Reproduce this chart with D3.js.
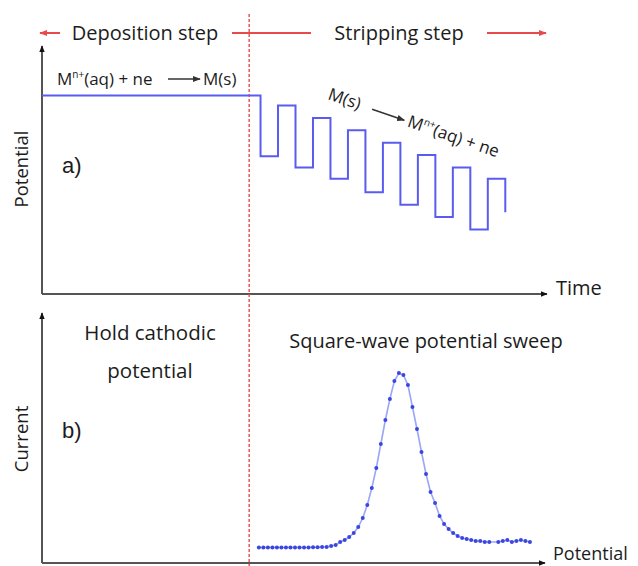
<!DOCTYPE html>
<html>
<head>
<meta charset="utf-8">
<script src="https://cdn.jsdelivr.net/npm/d3@7/dist/d3.min.js"></script>
<style>
  html, body { margin: 0; padding: 0; background: #fff; }
  svg { display: block; }
  text { font-family: "Open Sans", "DejaVu Sans", sans-serif; fill: #1c1c1c; }
</style>
</head>
<body>
<svg id="chart" width="638" height="566"></svg>
<script>
// ---- Panel a) potential programme vs time ----
const boundaryTime = 11.85;                 // end of deposition / start of stripping
const stepTimes = [0, 12.5, 13.5, 14.5, 15.5, 16.5, 17.5, 18.5, 19.5, 20.5, 21.5, 22.5, 23.5, 24.5, 25.5, 26.5];
const stepPotentials = [8.0, 5.55, 7.6, 5.1, 7.1, 4.65, 6.6, 4.1, 6.1, 3.6, 5.6, 3.1, 5.1, 2.6, 4.65, 3.3];

// ---- Panel b) square-wave voltammogram ----
const sweepPotentials = [48,49,50,51,52,53,54,55,56,57,58,59,60,61,62,63,64,65,66,67,68,69,70,71,72,73,74,75,76,77,78,79,80,81,82,83,84,85,86,87,88,89,90,91,92,93,94,95,96,97,98,99,101,102,103,104,105,106,107,108];
const sweepCurrents = [0.62,0.62,0.62,0.62,0.62,0.62,0.62,0.62,0.62,0.62,0.62,0.62,0.63,0.63,0.64,0.64,0.68,0.72,0.84,0.92,1.04,1.20,1.44,1.80,2.32,3.00,3.80,4.76,5.72,6.56,7.28,7.60,7.52,7.12,6.24,5.36,4.44,3.56,2.84,2.40,1.88,1.56,1.36,1.20,1.08,1.00,0.96,0.92,0.88,0.88,0.84,0.84,0.84,0.88,0.92,0.84,0.88,0.92,0.88,0.84];

const svg = d3.select("#chart");

const xTime = d3.scaleLinear().domain([0, 29]).range([42, 549]);
const yPot = d3.scaleLinear().domain([0, 10]).range([294, 46]);
const xPot = d3.scaleLinear().domain([0, 112]).range([42, 548]);
const yCur = d3.scaleLinear().domain([0, 10]).range([563, 313]);

const blue = "#5a5cf0";
const red = "#e8494b";
const axisColor = "#555";

// arrowhead markers
const defs = svg.append("defs");
function marker(id, color, size) {
  defs.append("marker")
    .attr("id", id).attr("viewBox", "0 0 10 10")
    .attr("refX", 9).attr("refY", 5)
    .attr("markerWidth", size).attr("markerHeight", size)
    .attr("markerUnits", "userSpaceOnUse")
    .attr("orient", "auto")
    .append("path").attr("d", "M0,1 L10,5 L0,9 Z").attr("fill", color);
}
marker("axisHead", "#111", 7);
marker("redHead", red, 8);
marker("txtHead", "#333", 8);

// ---- header: deposition / stripping arrows ----
const hy = 33;
const bx = xTime(boundaryTime);
svg.append("line").attr("x1", 60).attr("y1", hy).attr("x2", 40).attr("y2", hy)
  .attr("stroke", red).attr("stroke-width", 2).attr("marker-end", "url(#redHead)");
svg.append("line").attr("x1", 232).attr("y1", hy).attr("x2", 311).attr("y2", hy)
  .attr("stroke", red).attr("stroke-width", 2);
svg.append("line").attr("x1", 487).attr("y1", hy).attr("x2", 546).attr("y2", hy)
  .attr("stroke", red).attr("stroke-width", 2).attr("marker-end", "url(#redHead)");
svg.append("text").attr("x", 145).attr("y", hy + 7).attr("text-anchor", "middle")
  .attr("font-size", 20).text("Deposition step");
svg.append("text").attr("x", 399).attr("y", hy + 7).attr("text-anchor", "middle")
  .attr("font-size", 20).text("Stripping step");

// ---- axes ----
function axes(x0, y0, x1, yTop) {
  svg.append("line").attr("x1", x0).attr("y1", y0).attr("x2", x0).attr("y2", yTop)
    .attr("stroke", axisColor).attr("stroke-width", 2).attr("marker-end", "url(#axisHead)");
  svg.append("line").attr("x1", x0).attr("y1", y0).attr("x2", x1).attr("y2", y0)
    .attr("stroke", axisColor).attr("stroke-width", 2).attr("marker-end", "url(#axisHead)");
}
axes(xTime.range()[0], yPot.range()[0], 547, yPot.range()[1]);
axes(xPot.range()[0], yCur.range()[0], 545, yCur.range()[1]);

// boundary between deposition and stripping
svg.append("line").attr("x1", bx).attr("y1", 14).attr("x2", bx).attr("y2", 566)
  .attr("stroke", red).attr("stroke-width", 1.4).attr("stroke-dasharray", "3,2");

// ---- panel a) step potential ----
const stepData = stepTimes.map((t, i) => [t, stepPotentials[i]]);
svg.append("path").datum(stepData)
  .attr("d", d3.line().x(d => xTime(d[0])).y(d => yPot(d[1])).curve(d3.curveStepAfter))
  .attr("fill", "none").attr("stroke", blue).attr("stroke-width", 2);

// axis labels
svg.append("text").attr("transform", "translate(28,169) rotate(-90)")
  .attr("text-anchor", "middle").attr("font-size", 18.5).text("Potential");
svg.append("text").attr("transform", "translate(28,439) rotate(-90)")
  .attr("text-anchor", "middle").attr("font-size", 18.5).text("Current");
svg.append("text").attr("x", 556).attr("y", 295).attr("font-size", 20).text("Time");
svg.append("text").attr("x", 553).attr("y", 560).attr("font-size", 18).text("Potential");

svg.append("text").attr("x", 62).attr("y", 173)
  .style("font-family", "'Liberation Sans', Arial, sans-serif").attr("font-size", 22).text("a)");
svg.append("text").attr("x", 62).attr("y", 438)
  .style("font-family", "'Liberation Sans', Arial, sans-serif").attr("font-size", 22).text("b)");

// deposition reaction
const dep = svg.append("text").attr("x", 57).attr("y", 85).attr("font-size", 17);
dep.append("tspan").text("M");
dep.append("tspan").attr("dy", -7).attr("font-size", 10).text("n+");
dep.append("tspan").attr("dy", 7).text("(aq) + ne");
svg.append("line").attr("x1", 168).attr("y1", 79).attr("x2", 200).attr("y2", 79)
  .attr("stroke", "#333").attr("stroke-width", 1.5).attr("marker-end", "url(#txtHead)");
svg.append("text").attr("x", 203).attr("y", 85).attr("font-size", 17).text("M(s)");

// stripping reaction, written along the descending staircase
const strip = svg.append("g").attr("transform", "translate(327,99) rotate(19)");
strip.append("text").attr("x", 0).attr("y", 0).attr("font-size", 17).text("M(s)");
strip.append("line").attr("x1", 46).attr("y1", -5).attr("x2", 80).attr("y2", -5)
  .attr("stroke", "#333").attr("stroke-width", 1.5).attr("marker-end", "url(#txtHead)");
const sr = strip.append("text").attr("x", 84).attr("y", 0).attr("font-size", 17);
sr.append("tspan").text("M");
sr.append("tspan").attr("dy", -7).attr("font-size", 10).text("n+");
sr.append("tspan").attr("dy", 7).text("(aq) + ne");

// ---- panel b) labels ----
svg.append("text").attr("x", 150).attr("y", 340).attr("text-anchor", "middle")
  .attr("font-size", 20.5).text("Hold cathodic");
svg.append("text").attr("x", 150).attr("y", 378).attr("text-anchor", "middle")
  .attr("font-size", 20.5).text("potential");
svg.append("text").attr("x", 426).attr("y", 348).attr("text-anchor", "middle")
  .attr("font-size", 20).text("Square-wave potential sweep");

// ---- panel b) voltammogram ----
const sweep = sweepPotentials.map((p, i) => [p, sweepCurrents[i]]);
svg.append("path").datum(sweep)
  .attr("d", d3.line().x(d => xPot(d[0])).y(d => yCur(d[1])))
  .attr("fill", "none").attr("stroke", "#9aa6f6").attr("stroke-width", 1.6);
svg.append("g").selectAll("circle").data(sweep).join("circle")
  .attr("cx", d => xPot(d[0])).attr("cy", d => yCur(d[1])).attr("r", 2)
  .attr("fill", "#3b46e0");
</script>
</body>
</html>
